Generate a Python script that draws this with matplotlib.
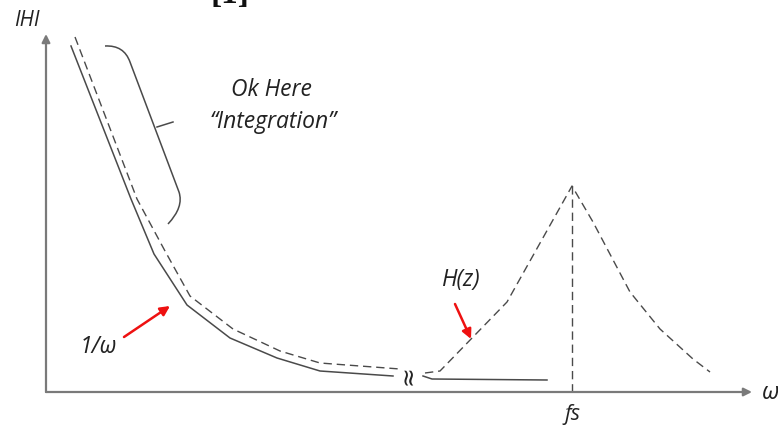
import matplotlib
matplotlib.use("Agg")
import matplotlib.pyplot as plt
from matplotlib.path import Path
from matplotlib.patches import PathPatch

plt.rcParams["font.family"] = ["Open Sans", "DejaVu Sans"]

# 1/w curve (solid), before and after the axis break
inv_x = [25, 85, 108, 141, 184, 231, 274, 347]
inv_y = [346, 193, 138, 87, 54, 34, 21, 16]
inv_tail_x = [377, 386, 501]
inv_tail_y = [16, 13, 12]

# integrator curve (dashed) and H(z) around fs
dash_x = [29, 91, 119, 144, 187, 234, 274, 354]
dash_y = [355, 193, 141, 96, 63, 41, 29, 23]
hz_x = [379, 394, 461, 526, 547, 584, 614, 647, 664]
hz_y = [19, 21, 90, 206, 170, 100, 63, 33, 20]

FS = 526
GREY = "#4a4a4a"
AX = "#7a7a7a"
DASH = (0, (6, 3.5))

fig = plt.figure(figsize=(7.78, 4.27), dpi=100)
ax = fig.add_axes([0, 0, 1, 1])
ax.set_xlim(-46, 732)
ax.set_ylim(-34, 393)
ax.axis("off")

# axes with arrows
ax.annotate("", xy=(0, 358), xytext=(0, 0),
            arrowprops=dict(arrowstyle="-|>", color=AX, lw=1.6, mutation_scale=12, shrinkA=0, shrinkB=0))
ax.annotate("", xy=(706, 0), xytext=(0, 0),
            arrowprops=dict(arrowstyle="-|>", color=AX, lw=1.6, mutation_scale=12, shrinkA=0, shrinkB=0))
ax.text(-19, 373, "IHI", ha="center", va="center", fontsize=15, style="italic", color="#222")
ax.text(716, 0, "ω", ha="left", va="center", fontsize=17, style="italic", color="#222")
ax.text(FS, -22, "fs", ha="center", va="center", fontsize=15.5, style="italic", color="#222")

# curves
ax.plot(inv_x, inv_y, color=GREY, lw=1.1)
ax.plot(inv_tail_x, inv_tail_y, color=GREY, lw=1.1)
ax.plot(dash_x, dash_y, color=GREY, lw=1.0, linestyle=DASH)
ax.plot(hz_x, hz_y, color=GREY, lw=1.0, linestyle=DASH)
ax.plot([FS, FS], [0, 206], color=GREY, lw=1.0, linestyle=DASH)

# axis break mark
ax.text(362, 18, "≈", ha="center", va="center", fontsize=17, rotation=90, color="#222",
        family="DejaVu Sans")

# bracket around the steep part
verts = [(59, 346), (78, 347), (84, 330), (133, 200), (138, 185), (122, 168)]
codes = [Path.MOVETO, Path.CURVE3, Path.CURVE3, Path.LINETO, Path.CURVE3, Path.CURVE3]
ax.add_patch(PathPatch(Path(verts, codes), facecolor="none", edgecolor=GREY, lw=1.1))
ax.plot([111, 127], [265, 270], color=GREY, lw=1.1)
ax.text(225, 303, "Ok Here", ha="center", va="center", fontsize=16.5, style="italic", color="#222")
ax.text(227, 271, "\u201cIntegration\u201d", ha="center", va="center", fontsize=16.5, style="italic",
        color="#222")

# red pointers
ax.annotate("", xy=(124, 86), xytext=(78, 55),
            arrowprops=dict(arrowstyle="-|>", color="#ee1111", lw=1.8, mutation_scale=14, shrinkA=0, shrinkB=0))
ax.text(52, 46, "1/ω", ha="center", va="center", fontsize=16.5, style="italic", color="#222")
ax.annotate("", xy=(425, 53), xytext=(409, 88),
            arrowprops=dict(arrowstyle="-|>", color="#ee1111", lw=1.8, mutation_scale=14, shrinkA=0, shrinkB=0))
ax.text(414, 113, "H(z)", ha="center", va="center", fontsize=16.5, style="italic", color="#222")

# clipped reference mark at the top
ax.text(184, 390, "[1]", ha="center", va="baseline", fontsize=24, fontweight="bold",
        family="Liberation Serif", color="#111")

fig.savefig("out.png", dpi=100, facecolor="white")
